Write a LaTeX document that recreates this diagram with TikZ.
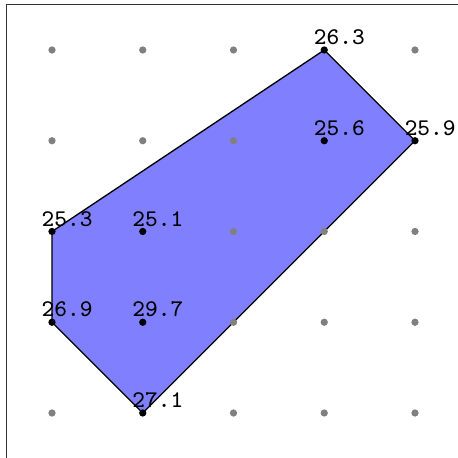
\documentclass[tikz,border=0pt]{standalone}
\begin{document}
\begin{tikzpicture}[x=1cm,y=1cm,
  gdot/.style={circle,fill=gray,inner sep=0pt,minimum size=0.8mm},
  bdot/.style={circle,fill=black,inner sep=0pt,minimum size=0.8mm},
  val/.style={anchor=base west,inner sep=0pt,font=\fontsize{7.5pt}{9pt}\selectfont\ttfamily}]
\useasboundingbox (-0.573,-0.496) rectangle (4.474,4.551);
\draw[line width=0.4pt,black!80] (-0.5,-0.5) rectangle (4.5,4.5);
% coordinates of grid points
\foreach \i in {0,...,4}{\foreach \j in {0,...,4}{\coordinate (c\i\j) at (\i,\j);}}
% polygon
\filldraw[fill=blue!50,draw=black,line width=0.4pt] (c34) -- (c43) -- (c10) -- (c01) -- (c02) -- cycle;
% gray dots
\foreach \p in {00,20,30,40,21,31,41,22,32,42,04,14,24,44,03,13,23}{\node[gdot] (g\p) at (c\p) {};}
% black dots
\foreach \p in {34,43,10,01,02,33,12,11}{\node[bdot] (b\p) at (c\p) {};}
% labels
\foreach \p/\v in {34/26.3,43/25.9,33/25.6,02/25.3,12/25.1,01/26.9,11/29.7,10/27.1}
  {\node[val] (l\p) at ([shift={(-0.12,0.06)}]c\p) {\v};}
\end{tikzpicture}
\end{document}
